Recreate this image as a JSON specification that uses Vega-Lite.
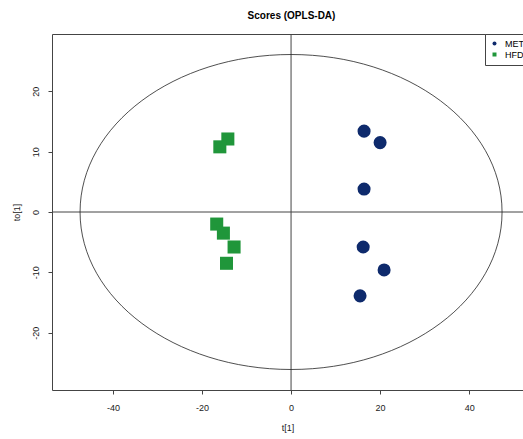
{
  "$schema": "https://vega.github.io/schema/vega-lite/v6.json",
  "width": 471,
  "height": 356,
  "autosize": {"type": "none"},
  "padding": {"left": 52, "top": 34, "right": 0, "bottom": 49},
  "background": "white",
  "title": {"text": "Scores (OPLS-DA)", "fontSize": 10, "fontWeight": "bold", "font": "Liberation Sans", "offset": 13, "dx": 4, "color": "black"},
  "config": {
    "view": {"stroke": "#444", "strokeWidth": 1},
    "axis": {"grid": false, "domain": false, "tickColor": "#444", "tickSize": 4, "labelFont": "Liberation Sans", "labelFontSize": 9, "labelColor": "#222", "titleFont": "Liberation Sans", "titleFontSize": 9, "titleFontWeight": "normal", "titleColor": "#222", "labelExpr": "datum.value + ''"}
  },
  "datasets": {
    "scores": [
      {"t1": 16.4, "to1": 13.4, "group": "MET"},
      {"t1": 20.0, "to1": 11.5, "group": "MET"},
      {"t1": 16.4, "to1": 3.8, "group": "MET"},
      {"t1": 16.2, "to1": -5.8, "group": "MET"},
      {"t1": 20.9, "to1": -9.6, "group": "MET"},
      {"t1": 15.5, "to1": -13.9, "group": "MET"},
      {"t1": -14.2, "to1": 12.1, "group": "HFD"},
      {"t1": -16.0, "to1": 10.8, "group": "HFD"},
      {"t1": -16.7, "to1": -2.0, "group": "HFD"},
      {"t1": -15.2, "to1": -3.5, "group": "HFD"},
      {"t1": -12.8, "to1": -5.8, "group": "HFD"},
      {"t1": -14.5, "to1": -8.5, "group": "HFD"}
    ],
    "center": [{"t1": 0, "to1": 0}]
  },
  "layer": [
    {
      "data": {"name": "center"},
      "mark": {"type": "rule", "color": "#444", "strokeWidth": 1},
      "encoding": {"x": {"field": "t1", "type": "quantitative"}}
    },
    {
      "data": {"name": "center"},
      "mark": {"type": "rule", "color": "#444", "strokeWidth": 1},
      "encoding": {"y": {"field": "to1", "type": "quantitative"}}
    },
    {
      "data": {"name": "center"},
      "mark": {"type": "point", "shape": "M -1 0 A 1 0.7464 0 1 1 1 0 A 1 0.7464 0 1 1 -1 0 Z", "size": 178084, "filled": false, "stroke": "#222", "strokeWidth": 0.8, "opacity": 1},
      "encoding": {
        "x": {"field": "t1", "type": "quantitative"},
        "y": {"field": "to1", "type": "quantitative"}
      }
    },
    {
      "data": {"name": "scores"},
      "mark": {"type": "point", "filled": true, "opacity": 1, "size": 170},
      "encoding": {
        "x": {"field": "t1", "type": "quantitative", "title": "t[1]", "scale": {"domain": [-53.7, 52.1], "nice": false, "zero": false}, "axis": {"values": [-40, -20, 0, 20, 40], "labelPadding": 9, "titleY": 37, "titleBaseline": "middle"}},
        "y": {"field": "to1", "type": "quantitative", "title": "to[1]", "scale": {"domain": [-29.5, 29.5], "nice": false, "zero": false}, "axis": {"values": [-20, -10, 0, 10, 20], "labelAngle": -90, "labelAlign": "center", "labelBaseline": "bottom", "labelPadding": 8, "titleX": -36, "titleBaseline": "middle"}},
        "color": {"field": "group", "type": "nominal", "scale": {"domain": ["MET", "HFD"], "range": ["#0e2a6c", "#20963a"]}, "legend": {"title": null, "orient": "none", "legendX": 433, "legendY": 0, "strokeColor": "#444", "fillColor": "white", "padding": 5, "symbolSize": 16, "labelFontSize": 9, "labelFont": "Liberation Sans", "rowPadding": 1, "labelOffset": 6}},
        "shape": {"field": "group", "type": "nominal", "scale": {"domain": ["MET", "HFD"], "range": ["circle", "square"]}, "legend": {"title": null, "orient": "none", "legendX": 433, "legendY": 0}}
      }
    }
  ]
}
